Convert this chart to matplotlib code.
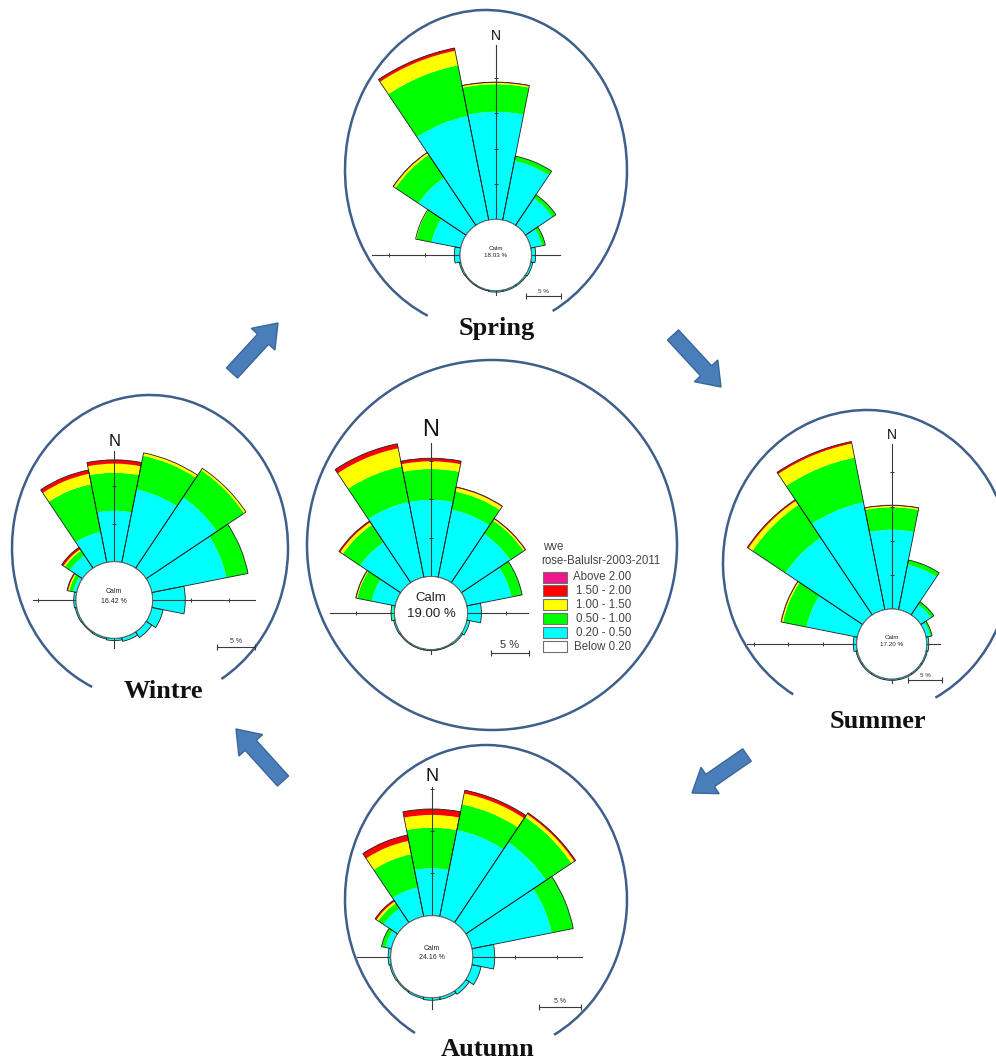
"""
Seasonal wind roses (WRPLOT style) arranged round the annual rose.
"""

import numpy as np
import matplotlib.pyplot as plt
from matplotlib.patches import Arc, Circle, FancyArrow, Rectangle

W, H = 996, 1064

DIRS = ["N", "NNE", "NE", "ENE", "E", "ESE", "SE", "SSE",
        "S", "SSW", "SW", "WSW", "W", "WNW", "NW", "NNW"]
LEGEND_LABELS = ["Above 2.00", "1.50 - 2.00", "1.00 - 1.50",
                 "0.50 - 1.00", "0.20 - 0.50", "Below 0.20"]
LEGEND_COLORS = ["#f0168c", "#ff0000", "#ffff00", "#00ff00", "#00ffff", "white"]
BAND_COLORS = ["#00ffff", "#00ff00", "#ffff00", "#ff0000"]  # 0.2-0.5 ... 1.5-2.0

# frequencies (%) per direction and speed class
annual_calm = 19.00
annual_020_050 = [9.9, 8.9, 7.6, 5.9, 1.8, 0.4, 0.2, 0.15, 0.15, 0.15, 0.15, 0.2, 0.3, 3.1, 6.3, 9.9]
annual_050_100 = [4.0, 2.4, 2.1, 1.4, 0, 0, 0, 0, 0, 0, 0, 0, 0.15, 1.9, 2.7, 4.7]
annual_100_150 = [1.0, 0.5, 0.2, 0, 0, 0, 0, 0, 0, 0, 0, 0, 0, 0.1, 0.4, 2.4]
annual_150_200 = [0.4, 0.1, 0.1, 0, 0, 0, 0, 0, 0, 0, 0, 0, 0, 0.1, 0.2, 0.6]

spring_calm = 18.03
spring_020_050 = [15.2, 8.5, 4.6, 1.6, 0.6, 0.3, 0.2, 0.2, 0.2, 0.15, 0.15, 0.2, 0.8, 4.2, 8.1, 15.0]
spring_050_100 = [3.9, 0.7, 0.6, 0.5, 0, 0, 0, 0, 0, 0, 0, 0, 0, 2.2, 3.9, 7.3]
spring_100_150 = [0.2, 0, 0, 0, 0, 0, 0, 0, 0, 0, 0, 0, 0, 0.1, 0.3, 2.1]
spring_150_200 = [0.1, 0, 0, 0, 0, 0, 0, 0, 0, 0, 0, 0, 0, 0, 0.1, 0.4]

summer_calm = 17.20
summer_020_050 = [11.6, 6.7, 1.8, 0.6, 0.3, 0.2, 0.2, 0.2, 0.2, 0.2, 0.2, 0.2, 0.5, 7.6, 13.6, 16.0]
summer_050_100 = [3.3, 0.7, 0.5, 0.3, 0, 0, 0, 0, 0, 0, 0, 0, 0, 3.5, 5.8, 6.7]
summer_100_150 = [0.2, 0, 0, 0, 0, 0, 0, 0, 0, 0, 0, 0, 0, 0.2, 0.7, 2.1]
summer_150_200 = [0.1, 0, 0, 0, 0, 0, 0, 0, 0, 0, 0, 0, 0, 0.1, 0.2, 0.3]

autumn_calm = 24.16
autumn_020_050 = [5.6, 10.4, 11.4, 9.6, 2.6, 1.1, 0.5, 0.3, 0.3, 0.2, 0.15, 0.2, 0.3, 0.7, 2.0, 3.5]
autumn_050_100 = [4.8, 3.1, 3.6, 2.6, 0, 0, 0, 0, 0, 0, 0, 0, 0, 0.5, 0.75, 4.0]
autumn_100_150 = [1.5, 1.3, 0.4, 0, 0, 0, 0, 0, 0, 0, 0, 0, 0, 0, 0.25, 1.6]
autumn_150_200 = [0.7, 0.4, 0.2, 0, 0, 0, 0, 0, 0, 0, 0, 0, 0, 0, 0.2, 0.7]

winter_calm = 16.42
winter_020_050 = [6.7, 9.8, 11.2, 10.0, 4.3, 1.5, 0.9, 0.5, 0.3, 0.2, 0.15, 0.2, 0.3, 0.45, 2.0, 4.1]
winter_050_100 = [5.0, 4.5, 4.3, 2.9, 0, 0, 0, 0, 0, 0, 0, 0, 0, 0.55, 0.8, 6.4]
winter_100_150 = [1.2, 0.4, 0.3, 0, 0, 0, 0, 0, 0, 0, 0, 0, 0, 0.15, 0.2, 1.4]
winter_150_200 = [0.5, 0, 0, 0, 0, 0, 0, 0, 0, 0, 0, 0, 0, 0.15, 0.3, 0.5]

# layout (pixels): rose centre, px per %, calm radius, axis extents (top, right, bottom, left)
roses = [
    dict(cx=431, cy=613, s=7.73, calm_px=36.5, R=200, ext=(17.3, 7.8, 0.6, 8.4),
         n_fs=17, calm_fs=9.5, bar=(490.5, 652.5), bar_fs=8,
         bands=[annual_020_050, annual_050_100, annual_100_150, annual_150_200], calm=annual_calm),
    dict(cx=495.7, cy=255, s=7.07, calm_px=35.7, R=245, ext=(24.7, 4.1, 0.6, 12.5),
         n_fs=10, calm_fs=4.5, bar=(525.7, 296), bar_fs=4.5,
         bands=[spring_020_050, spring_050_100, spring_100_150, spring_150_200], calm=spring_calm),
    dict(cx=891.7, cy=644, s=6.83, calm_px=35, R=230, ext=(24.2, 2.0, 0.6, 16.1),
         n_fs=10, calm_fs=4.5, bar=(908, 680), bar_fs=4.5,
         bands=[summer_020_050, summer_050_100, summer_100_150, summer_150_200], calm=summer_calm),
    dict(cx=431.7, cy=956.7, s=8.47, calm_px=41, R=200, ext=(15.2, 12.9, 1.3, 4.0),
         n_fs=13, calm_fs=5, bar=(539, 1007), bar_fs=5,
         bands=[autumn_020_050, autumn_050_100, autumn_100_150, autumn_150_200], calm=autumn_calm),
    dict(cx=114.3, cy=600, s=7.6, calm_px=38.3, R=190, ext=(14.5, 13.5, 1.3, 5.6),
         n_fs=12, calm_fs=5, bar=(216.7, 647), bar_fs=5,
         bands=[winter_020_050, winter_050_100, winter_100_150, winter_150_200], calm=winter_calm),
]

fig = plt.figure(figsize=(W / 100, H / 100), dpi=100)
fig.patch.set_facecolor("white")

theta = np.deg2rad(np.arange(len(DIRS)) * 360 / len(DIRS))
width = 2 * np.pi / len(DIRS)
axis_color = "#3a3a3a"
font_sans = ["Liberation Sans", "DejaVu Sans"]

for cfg in roses:
    cx, cy, s, R = cfg["cx"], cfg["cy"], cfg["s"], cfg["R"]
    ax = fig.add_axes([(cx - R) / W, 1 - (cy + R) / H, 2 * R / W, 2 * R / H],
                      projection="polar")
    ax.set_theta_zero_location("N")
    ax.set_theta_direction(-1)
    ax.set_ylim(0, R / s)
    ax.axis("off")
    ax.patch.set_alpha(0)

    r0 = cfg["calm_px"] / s
    base = np.full(len(DIRS), r0)
    for vals, col in zip(cfg["bands"], BAND_COLORS):
        vals = np.array(vals, dtype=float)
        ax.bar(theta, vals, width=width, bottom=base, color=col, linewidth=0, zorder=1)
        base = base + vals
    ax.bar(theta, base - r0, width=width, bottom=r0, fill=False,
           edgecolor="#202020", linewidth=0.6, zorder=1.5)

    # cross axes with 5 % ticks
    for i, ext in enumerate(cfg["ext"]):
        ang = i * np.pi / 2
        ax.plot([ang, ang], [0, r0 + ext], color=axis_color, lw=0.8, zorder=2)
        ticks = np.arange(5, ext, 5)
        ax.plot(np.full(len(ticks), ang), r0 + ticks, ls="none",
                marker="_" if i % 2 == 0 else "|", ms=3.5, mew=0.7,
                color=axis_color, zorder=2)

    # calm circle
    ax.add_patch(Circle((0.5, 0.5), cfg["calm_px"] / (2 * R), transform=ax.transAxes,
                        fc="white", ec="#606060", lw=0.7, zorder=3))
    ax.annotate(f"Calm\n{cfg['calm']:.2f} %", xy=(0, 0), xytext=(0, cfg["calm_fs"] * 0.5),
                textcoords="offset points", ha="center", va="center",
                fontsize=cfg["calm_fs"], family=font_sans, color="#222222",
                linespacing=1.45, zorder=4)
    ax.annotate("N", xy=(0, r0 + cfg["ext"][0]), xytext=(0, 1.5),
                textcoords="offset points", ha="center", va="bottom",
                fontsize=cfg["n_fs"], family=font_sans, color="#111111")

# overlay in pixel coordinates: frames, arrows, labels, legend, scale bars
ax0 = fig.add_axes([0, 0, 1, 1], zorder=10)
ax0.set_xlim(0, W)
ax0.set_ylim(H, 0)
ax0.axis("off")
ax0.patch.set_alpha(0)

frame_color = "#3e5f8a"
ax0.add_patch(Circle((492, 545), 185, fill=False, ec=frame_color, lw=1.8))
frames = [
    ((486, 170), 282, 320, 111.8, 424.7),   # spring
    ((867, 563), 288, 306, 119.3, 423.1),   # summer
    ((486, 899.5), 282, 309, 118.0, 423.3),  # autumn
    ((150, 548), 276, 306, 112.6, 421.4),   # winter
]
for xy, w, h, t1, t2 in frames:
    ax0.add_patch(Arc(xy, w, h, theta1=t1, theta2=t2, ec=frame_color, lw=1.8))

arrows = [((232, 373), (278, 323)), ((673, 335), (721, 387)),
          ((747, 755), (692, 793)), ((283, 781), (236, 729))]
for (x0, y0), (x1, y1) in arrows:
    ax0.add_patch(FancyArrow(x0, y0, x1 - x0, y1 - y0, width=15, head_width=32,
                             head_length=22, length_includes_head=True,
                             fc="#4a7ebb", ec="#3a6797", lw=1))

labels = [("Spring", 497, 328), ("Summer", 878, 722), ("Autumn", 488, 1050), ("Wintre", 163, 692)]
for txt, x, y in labels:
    ax0.text(x, y, txt, ha="center", va="center", fontsize=19, fontweight="bold",
             family=["Liberation Serif", "DejaVu Serif"], color="#111111")

# scale bars (5 %)
for cfg in roses:
    x0, y0 = cfg["bar"]
    L = 5 * cfg["s"]
    ax0.plot([x0, x0 + L], [y0, y0], color=axis_color, lw=0.8)
    ax0.plot([x0, x0 + L], [y0, y0], ls="none", marker="|", ms=4, mew=0.8, color=axis_color)
    ax0.text(x0 + L / 2, y0 - 2, "5 %", ha="center", va="bottom",
             fontsize=cfg["bar_fs"], family=font_sans, color="#333333")

# legend of the annual rose
leg_fs = 8.3
ax0.text(543, 547, "wve", ha="left", va="center", fontsize=leg_fs, family=font_sans, color="#444444")
ax0.text(541, 560.5, "rose-Balulsr-2003-2011", ha="left", va="center", fontsize=leg_fs,
         family=font_sans, color="#444444")
for i, (lab, col) in enumerate(zip(LEGEND_LABELS, LEGEND_COLORS)):
    y = 577 + 13.9 * i
    ax0.add_patch(Rectangle((543, y - 5.5), 24, 11, fc=col, ec="#707070", lw=0.8))
    ax0.text(631, y, lab, ha="right", va="center", fontsize=leg_fs, family=font_sans, color="#444444")

fig.savefig("out.png", dpi=100)
